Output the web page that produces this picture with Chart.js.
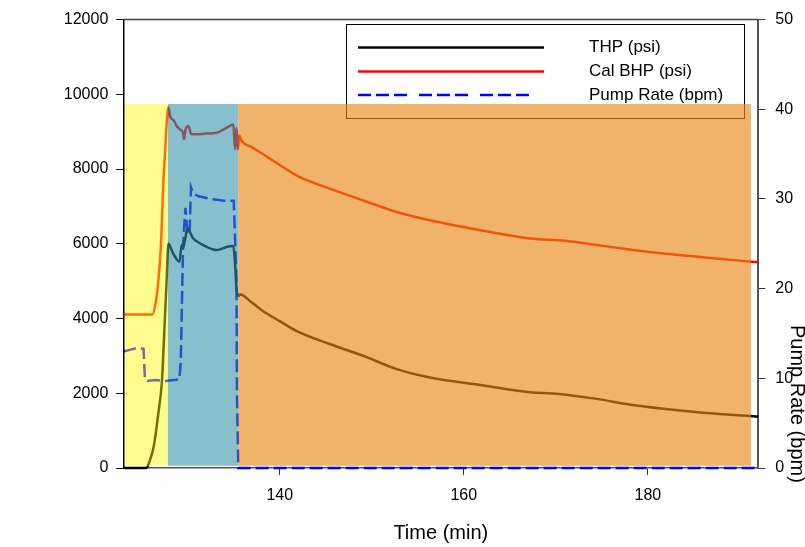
<!DOCTYPE html>
<html>
<head>
<meta charset="utf-8">
<title>THP / Cal BHP / Pump Rate</title>
<script src="https://cdn.jsdelivr.net/npm/chart.js"></script>
<style>
  body { margin: 0; background: #fff; }
  canvas { display: block; }
</style>
</head>
<body>
<canvas id="pumpChart" width="805" height="547"></canvas>
<script>
// THP (psi) vs time (min)
const thpTime = [123.0, 125.5, 125.9, 126.3, 126.8, 127.2, 127.5, 127.7, 127.9, 128.4, 129.1, 129.35, 129.5, 129.7, 129.96,
  130.6, 131.7, 133.15, 134.3, 134.96, 135.14, 135.3, 135.5, 135.7, 137.0, 138.2, 140.0, 141.85, 145.5, 149.1,
  152.7, 156.3, 161.8, 167.2, 170.0, 174.45, 178.0, 181.7, 186.0, 191.1, 192.0];
const thpPsi = [0, 0, 212, 566, 1450, 2336, 3900, 4990, 6000, 5750, 5520, 5966, 5900, 6100, 6400,
  6141, 5966, 5833, 5920, 5940, 5480, 4800, 4600, 4640, 4420, 4195, 3930, 3664, 3311, 3000,
  2647, 2424, 2222, 2026, 1990, 1850, 1700, 1585, 1480, 1389, 1375];

// Cal BHP (psi)
const bhpTime = [123.0, 126.15, 126.5, 126.8, 127.1, 127.35, 127.55, 127.72, 127.9, 128.08, 128.5, 128.8, 129.2, 129.5,
  129.6, 129.75, 130.07, 130.4, 130.98, 132.0, 133.15, 134.2, 134.96, 135.14, 135.3, 135.45, 135.6, 135.87,
  137.0, 138.2, 140.0, 141.85, 145.5, 149.1, 152.7, 156.3, 161.8, 167.2, 171.0, 174.45, 178.0, 181.7, 186.0, 191.1, 192.0];
const bhpPsi = [4107, 4107, 4400, 4991, 6000, 7646, 8500, 9239, 9650, 9417, 9300, 9151, 9050, 8974,
  8800, 9050, 9151, 8930, 8930, 8950, 8974, 9100, 9195, 8531, 9100, 8531, 8900, 8753,
  8580, 8398, 8110, 7824, 7469, 7160, 6850, 6629, 6364, 6142, 6080, 5966, 5850, 5743, 5640, 5523, 5505];

// Pump rate (bpm)
const pumpTime = [123.0, 123.8, 124.6, 125.2, 125.35, 125.6, 126.5, 127.5, 128.5, 129.1, 129.25, 129.5, 129.75,
  129.95, 130.2, 130.35, 130.6, 131.2, 132.5, 134.0, 135.0, 135.3, 135.35, 135.5, 192.0];
const pumpBpm = [13.0, 13.2, 13.4, 13.3, 9.9, 9.7, 9.8, 9.7, 9.8, 9.9, 12, 25, 29,
  26.5, 26, 31.3, 30.6, 30.3, 30.0, 29.8, 29.8, 20.8, 8.3, 0, 0];

const xTicks = [140, 160, 180];
const psiTicks = [0, 2000, 4000, 6000, 8000, 10000, 12000];
const bpmTicks = [0, 10, 20, 30, 40, 50];

// shaded stages (min), laid over the curves
const stageStart = [123.2, 127.85, 135.5];
const stageEnd = [127.85, 135.5, 191.2];
const stageTopPsi = 9743;
const stageBottomPsi = 60;

const legendLabels = ["THP (psi)", "Cal BHP (psi)", "Pump Rate (bpm)"];

const FONT = "'Liberation Sans', Arial, sans-serif";
Chart.defaults.font.family = FONT;
Chart.defaults.color = "#000";

const stageColors = ["rgba(255,247,0,0.45)", "rgba(51,146,168,0.584)", "rgba(233,134,20,0.635)"];
const lineColors = ["#000000", "#ff0000", "#0000ff"];

function toPoints(xs, ys) {
  return xs.map((x, i) => ({ x: x, y: ys[i] }));
}

function fixedTicks(list) {
  return scale => { scale.ticks = list.map(v => ({ value: v })); };
}

const stagePlugin = {
  id: "stages",
  beforeDatasetsDraw(chart) {
    // boxed legend, sits under the stage shading
    const ctx = chart.ctx;
    ctx.save();
    ctx.strokeStyle = "#000";
    ctx.lineWidth = 1;
    ctx.strokeRect(346.5, 24.5, 398, 94);
    const rows = [47.5, 71.5, 95];
    rows.forEach((y, i) => {
      ctx.beginPath();
      ctx.strokeStyle = lineColors[i];
      ctx.lineWidth = 2.5;
      if (i == 2) {
        ctx.setLineDash([13, 5, 13, 5, 13, 12]);
        ctx.moveTo(358, y);
        ctx.lineTo(530, y);
      } else {
        ctx.setLineDash([]);
        ctx.moveTo(358, y);
        ctx.lineTo(544, y);
      }
      ctx.stroke();
      ctx.fillStyle = "#000";
      ctx.font = "17px " + FONT;
      ctx.textBaseline = "middle";
      ctx.textAlign = "left";
      ctx.fillText(legendLabels[i], 589, y);
    });
    ctx.restore();
  },
  afterDatasetsDraw(chart) {
    const ctx = chart.ctx;
    const xs = chart.scales.x;
    const ys = chart.scales.y;
    ctx.save();
    stageStart.forEach((s, i) => {
      const x1 = xs.getPixelForValue(s);
      const x2 = xs.getPixelForValue(stageEnd[i]);
      const y1 = ys.getPixelForValue(stageTopPsi);
      const y2 = ys.getPixelForValue(stageBottomPsi);
      ctx.fillStyle = stageColors[i];
      ctx.fillRect(x1, y1, x2 - x1, y2 - y1);
    });
    ctx.restore();
  },
  afterDraw(chart) {
    const ctx = chart.ctx;
    const a = chart.chartArea;
    ctx.save();
    // top frame line
    ctx.strokeStyle = "#444";
    ctx.lineWidth = 1.5;
    ctx.beginPath();
    ctx.moveTo(a.left, a.top);
    ctx.lineTo(a.right, a.top);
    ctx.stroke();
    // right axis title, rotated and sitting low like the original
    ctx.translate(791, 325);
    ctx.rotate(Math.PI / 2);
    ctx.fillStyle = "#000";
    ctx.font = "20px " + FONT;
    ctx.textAlign = "left";
    ctx.textBaseline = "alphabetic";
    ctx.fillText("Pump Rate (bpm)", 0, 0);
    ctx.restore();
  }
};

const ctx = document.getElementById("pumpChart").getContext("2d");
new Chart(ctx, {
  type: "line",
  data: {
    datasets: [
      {
        label: legendLabels[0],
        data: toPoints(thpTime, thpPsi),
        borderColor: lineColors[0],
        borderWidth: 2.5,
        borderJoinStyle: "round",
        cubicInterpolationMode: "monotone",
        pointRadius: 0,
        clip: 3,
        yAxisID: "y"
      },
      {
        label: legendLabels[1],
        data: toPoints(bhpTime, bhpPsi),
        borderColor: lineColors[1],
        borderWidth: 2.5,
        borderJoinStyle: "round",
        cubicInterpolationMode: "monotone",
        pointRadius: 0,
        clip: 3,
        yAxisID: "y"
      },
      {
        label: legendLabels[2],
        data: toPoints(pumpTime, pumpBpm),
        borderColor: lineColors[2],
        borderWidth: 2.5,
        borderDash: [13, 5],
        pointRadius: 0,
        tension: 0,
        clip: 3,
        yAxisID: "y2"
      }
    ]
  },
  options: {
    responsive: false,
    animation: false,
    layout: { padding: { top: 15.5, left: 0, right: 0, bottom: 0 } },
    plugins: {
      legend: { display: false },
      tooltip: { enabled: false }
    },
    scales: {
      x: {
        type: "linear",
        min: 123,
        max: 192,
        afterBuildTicks: fixedTicks(xTicks),
        afterFit: s => { s.height = 79; },
        grid: { drawOnChartArea: false, tickLength: 7, color: "#333" },
        border: { color: "#555", width: 1.5 },
        ticks: { font: { size: 16 }, padding: 11, color: "#000", callback: v => String(v) },
        title: { display: true, text: "Time (min)", font: { size: 20 }, color: "#000", padding: { top: 0, bottom: 2 } }
      },
      y: {
        position: "left",
        min: 0,
        max: 12000,
        afterBuildTicks: fixedTicks(psiTicks),
        afterFit: s => { s.width = 123.3; },
        grid: { drawOnChartArea: false, tickLength: 7, color: "#000" },
        border: { color: "#000", width: 1.5 },
        ticks: { font: { size: 16 }, padding: 8, color: "#000", callback: v => String(v) }
      },
      y2: {
        position: "right",
        min: 0,
        max: 50,
        afterBuildTicks: fixedTicks(bpmTicks),
        afterFit: s => { s.width = 46.7; },
        grid: { drawOnChartArea: false, tickLength: 7, color: "#333" },
        border: { color: "#555", width: 2 },
        ticks: { font: { size: 16 }, padding: 10, color: "#000", callback: v => String(v) }
      }
    }
  },
  plugins: [stagePlugin]
});
</script>
</body>
</html>
